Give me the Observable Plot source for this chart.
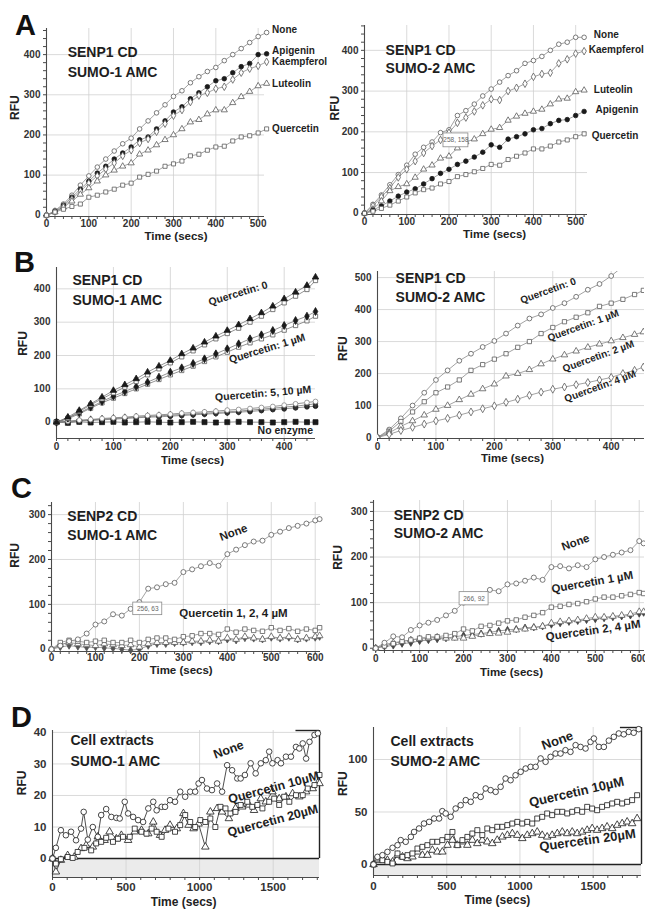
<!DOCTYPE html>
<html><head><meta charset="utf-8">
<script src="https://cdn.jsdelivr.net/npm/d3@7"></script>
<script src="https://cdn.jsdelivr.net/npm/@observablehq/plot@0.6"></script>
<style>
body{margin:0;background:#fff;}
#fig{position:relative;width:645px;height:910px;overflow:hidden;font-family:"Liberation Sans",Arial,sans-serif;}
#fig svg{position:absolute;}
</style></head><body><div id="fig"></div>
<script>
// ---------- Panel A (SENP1 CD) ----------
const a1Time = [0,20,40,60,80,100,120,140,160,180,200,220,240,260,280,300,320,340,360,380,400,420,440,460,480,500,520];
const a1None = [0,12,28,50,75,98,120,140,160,178,192,215,235,255,275,296,310,330,345,358,368,385,400,415,430,445,455];
const a1Apigenin = [0,10,25,45,65,85,105,122,140,155,170,188,195,215,235,257,270,290,305,320,335,340,355,370,378,400,402];
const a1Kaempferol = [0,9,22,40,60,80,98,115,130,148,162,180,190,208,228,248,262,282,298,305,315,320,338,355,365,372,382];
const a1Luteolin = [0,8,20,35,52,68,85,100,112,122,130,152,162,175,188,200,215,232,238,252,262,262,280,295,308,322,328];
const a1Quercetin = [0,8,15,22,28,45,50,58,65,75,80,95,102,110,122,128,135,148,152,162,170,172,185,195,198,205,215];

const a2Time = a1Time;
const a2None = [0,22,45,70,95,118,145,162,175,198,205,240,252,268,288,305,322,338,350,368,375,385,400,415,420,432,432];
const a2Kaempferol = [0,18,40,62,88,108,128,148,165,180,198,222,235,250,265,280,278,300,308,318,335,342,345,368,378,392,398];
const a2Luteolin = [0,10,30,55,65,72,88,108,118,135,140,160,175,182,195,206,210,228,238,245,250,255,268,280,282,298,302];
const a2Apigenin = [0,8,18,30,42,52,60,72,85,98,108,120,128,138,150,168,162,182,188,195,205,208,220,228,230,240,250];
const a2Quercetin = [0,5,12,20,30,40,50,58,62,72,78,90,95,102,110,120,118,132,140,148,158,158,165,175,180,188,195];

// ---------- Panel B (SENP1 CD, quercetin doses) ----------
const b1Time = [0,20,40,60,80,100,120,140,160,180,200,220,240,260,280,300,320,340,360,380,400,420,440,455];
const b1Q0a = [0,15,35,55,75,95,112,130,150,168,185,205,222,240,258,275,292,310,328,348,370,390,410,435];
const b1Q0b = [0,12,32,52,70,88,105,122,142,160,178,196,214,232,250,266,282,300,318,338,358,378,398,425];
const b1Q1a = [0,12,28,45,62,78,92,106,120,135,150,163,176,190,205,220,235,250,262,275,290,305,318,332];
const b1Q1b = [0,10,25,42,58,72,86,100,114,128,142,155,168,182,196,210,225,238,250,262,276,290,304,318];
const b1Q5 = [0,3,6,8,11,13,15,18,20,22,24,27,29,31,33,36,38,41,44,47,51,55,59,62];
const b1Q10 = [0,1,3,5,7,9,11,13,15,16,18,20,22,24,26,28,30,32,35,38,40,43,46,48];
const b1Q10b = [0,2,4,7,9,11,13,15,17,19,21,23,25,27,29,31,33,36,39,42,45,48,52,55];
const b1NoEnz = [0,-2,1,-1,0,1,-1,0,1,0,-1,0,1,0,-1,0,1,0,0,-1,0,1,0,0];

const b2Time = b1Time;
const b2Q0 = [0,25,60,100,140,180,210,240,262,283,302,325,350,372,385,405,420,440,462,480,505,535];
const b2Q1 = [0,20,50,80,112,140,158,180,210,228,245,262,282,300,325,344,362,376,390,410,420,432,447,460];
const b2Q2 = [0,15,35,52,70,88,100,118,135,152,167,192,200,212,230,245,258,270,282,292,302,312,322,330];
const b2Q4 = [0,10,22,32,42,52,60,70,80,90,99,110,120,132,142,151,158,165,172,180,188,200,210,220];

// ---------- Panel C (SENP2 CD) ----------
const c1Time = [0,20,40,60,80,100,120,140,160,180,200,220,240,260,280,300,320,340,360,380,400,420,440,460,480,500,520,540,560,580,600,610];
const c1None = [0,8,18,22,35,55,62,78,75,90,105,135,138,145,148,172,178,185,192,186,212,222,232,240,242,255,262,270,275,280,287,290];
const c1Q1 = [0,15,20,18,15,18,20,15,15,20,15,22,25,25,22,28,30,35,35,33,45,38,45,42,40,48,42,46,40,45,42,48];
const c1Q2 = [0,10,15,12,10,8,12,10,8,10,5,12,15,15,15,15,18,18,20,18,25,22,28,25,22,28,25,28,22,25,28,30];
const c1Q4 = [0,5,8,6,4,5,3,2,0,-2,0,8,12,12,14,15,16,16,18,18,22,20,25,24,22,26,24,26,22,24,26,28];

const c2Time = c1Time;
const c2None = [0,12,26,24,40,50,56,62,72,82,100,112,118,128,125,140,142,148,155,150,178,180,175,182,178,195,200,205,210,215,235,230];
const c2Q1 = [0,5,10,15,18,22,25,25,28,32,42,38,48,50,55,60,62,68,72,78,90,92,96,98,102,108,112,112,115,118,122,120];
const c2Q2 = [0,8,12,15,18,20,22,24,22,22,22,26,30,32,33,35,40,42,45,48,55,58,60,62,65,68,68,70,72,75,80,80];
const c2Q4 = [0,4,6,10,12,16,18,20,22,25,28,30,32,35,38,40,42,45,46,48,52,55,58,60,62,64,66,68,70,72,76,78];

// ---------- Panel D (cell extracts) ----------
const d1NoneTime = [0,23,57,91,126,160,194,212,240,274,308,331,365,400,434,457,491,514,548,582,616,651,685,708,742,765,799,833,868,902,936,970,993,1016,1050,1084,1119,1153,1187,1221,1256,1279,1308,1347,1381,1416,1450,1473,1495,1530,1553,1587,1621,1655,1678,1701,1724,1747,1781,1804];
const d1None = [0,3.4,9,7.4,8.5,5.8,9.5,14.8,6,10,6.9,13.8,15.7,13.2,12.9,12.7,18,14.3,13.2,12.2,11.6,15.9,18,15.3,16.4,16.4,18.5,18,21.2,19.6,21.2,21.2,23.8,24.9,22.2,21.7,23.8,21.2,29.6,28,25.4,25.4,26.5,30.2,27,30.2,31.2,33.9,30.2,31.2,30.2,32.3,32.3,35.4,34.9,36.5,31.7,37,39.2,39.7];
const d1Q10Time = [0,23,57,103,137,171,217,263,297,331,365,411,445,479,525,559,605,639,674,708,742,788,833,868,902,936,970,1005,1039,1073,1107,1142,1176,1210,1244,1279,1324,1358,1393,1427,1473,1507,1541,1575,1610,1655,1701,1735,1781,1815];
const d1Q10 = [0,-1.6,-0.2,0.5,0.2,2.1,3.4,2.6,4.8,5.3,6.6,5.3,6.3,6.9,6.9,9.5,8.5,7.9,9.5,8.5,6.9,9.5,8.5,10.6,13.8,11.6,10,12.2,11.6,12.7,10,16.4,15.9,14.3,14.8,17,18,16.4,17,15.9,18,19,17,19.6,18,20.1,20.1,22.2,23.3,26.5];
const d1Q20Time = [0,23,57,103,148,194,228,274,308,354,388,434,468,514,559,605,651,685,731,765,799,845,890,925,959,993,1039,1073,1119,1153,1199,1244,1290,1336,1370,1416,1450,1495,1541,1587,1632,1678,1724,1769,1815];
const d1Q20 = [0,-4.2,-0.5,1,0.5,3.2,4.2,3.7,6.9,5.8,8.5,6.3,7.4,5.8,8.5,9,7.9,11.6,7.4,9,10.6,9.5,14.3,10.6,9.5,11,3.7,14.8,15.9,14.8,12.7,15.9,16.4,17,15.3,19,18,21.2,19,19.6,20.6,19.6,21.2,22.2,23.8];

const d2NoneTime = [0,27,61,95,130,164,186,220,255,277,311,345,380,414,448,470,493,527,561,595,630,664,698,732,766,800,834,868,902,936,970,1005,1039,1073,1107,1141,1175,1209,1243,1277,1311,1345,1380,1414,1448,1482,1505,1539,1573,1607,1641,1675,1709,1743,1777,1811];
const d2None = [0,7.3,8.9,12,15.9,18.4,23.2,21.6,26.3,31,34.3,39,40.6,43.8,43.8,50.8,48.6,45.4,53.3,56.5,61.3,59.7,66,64.4,72.4,70.8,69.2,74,81.9,80.3,85,88.3,91.4,93,93,101,97.8,102.5,105.7,105.7,108.9,107.3,113.7,112,110.5,116.8,120,112,112,118,121.6,124.8,124,126.3,125.5,128.9];
const d2QTime = [0,27,61,95,130,164,198,232,266,300,334,368,402,436,470,505,539,573,607,641,675,709,743,777,811,845,880,914,948,982,1016,1050,1084,1118,1152,1186,1220,1255,1289,1323,1357,1391,1425,1459,1493,1527,1561,1595,1630,1664,1698,1732,1766,1800];
const d2Q10 = [0,5.7,4.1,2.5,1,10.5,7.3,8.9,10.5,15.2,16.8,18.4,21.6,21.6,23.2,26.3,31,18.4,23.2,26.3,29.5,32.7,28,34.3,32.7,35.9,35.9,37.5,39,40.6,39,40.6,39,43.8,45.4,48.6,47,50.2,50.2,48.6,50.2,51.7,50.2,54.9,53.3,51.7,54.9,56.5,58.1,59.7,58.1,59.7,61.3,66];
const d2Q20 = [0,4.1,5.7,4.1,2.5,8.9,7.3,5.7,7.3,12,8.9,8.9,13.7,12,12,18.4,23.2,18.4,21.6,18.4,23.2,20,23.2,21.6,20,23.2,26.3,27.9,29.5,27.9,24.8,27.9,29.5,31,27.9,26.3,27.9,29.5,31,29.5,31,29.5,31,32.7,34.3,32.7,34.3,35.9,34.3,37.5,39,40.6,39,43.8];

// ---------- tick labels ----------
const xTicksA = [0,100,200,300,400,500];
const yTicksA = [0,100,200,300,400];
const xTicksB = [0,100,200,300,400];
const yTicksB1 = [0,100,200,300,400];
const yTicksB2 = [0,100,200,300,400,500];
const xTicksC = [0,100,200,300,400,500,600];
const yTicksC = [0,100,200,300];
const xTicksD = [0,500,1000,1500];
const yTicksD1 = [0,10,20,30,40];
const yTicksD2 = [0,50,100];

const FONT = '"Liberation Sans", Arial, Helvetica, sans-serif';
const fig = document.getElementById("fig");

const OPEN = "white";
function S(t, v, symbol, fill, stroke, r) { return {t, v, symbol, fill, stroke, r}; }

function drawPanel(p) {
  const [fl, fr, ft, fb] = p.frame;
  const ML = 60, MR = 80, MT = 15, MB = 45;
  const width = Math.round(ML + (fr - fl) + MR), height = Math.round(MT + (fb - ft) + MB);
  const axisCol = "#4a4a4a";
  const fmt = d => String(d);
  const marks = [];
  if (p.band) marks.push(Plot.rect([{a: p.xdom[0], b: p.xdom[1], c: p.ydom[0], d: 0}], {x1: "a", x2: "b", y1: "c", y2: "d", fill: "#ebebeb"}));
  marks.push(Plot.gridX(p.xTicks.filter(d => d > 0), {stroke: "#d0d0d0", strokeOpacity: 1, strokeWidth: 0.8}));
  marks.push(Plot.gridY(p.yTicks.filter(d => d > 0), {stroke: "#d0d0d0", strokeOpacity: 1, strokeWidth: 0.8}));
  marks.push(Plot.ruleX([p.xdom[0]], {stroke: axisCol, strokeWidth: 1.1}));
  marks.push(Plot.ruleY([p.ydom[0]], {stroke: axisCol, strokeWidth: 1.1}));
  if (p.band) {
    marks.push(Plot.ruleY([0], {stroke: "#222", strokeWidth: 1.6}));
    marks.push(Plot.ruleY([p.ydom[1]], {x1: () => p.bracketX, x2: () => p.xdom[1], stroke: "#222", strokeWidth: 1.4}));
    marks.push(Plot.ruleX([p.xdom[1]], {y1: () => 0, y2: () => p.ydom[1], stroke: "#222", strokeWidth: 1.4}));
  }
  if (p.xMinor) marks.push(Plot.axisX(p.xMinor, {tickSize: 3, tickFormat: () => "", label: null, stroke: axisCol}));
  if (p.yMinor) marks.push(Plot.axisY(p.yMinor, {tickSize: 3, tickFormat: () => "", label: null, stroke: axisCol}));
  marks.push(Plot.axisX(p.xTicks, {tickSize: 0, tickPadding: p.xPad, tickFormat: fmt, label: null, fontWeight: "bold", fontSize: p.tickFs, color: "#333"}));
  marks.push(Plot.axisY(p.yTicks, {tickSize: 0, tickPadding: p.yPad, tickFormat: fmt, label: null, fontWeight: "bold", fontSize: p.tickFs, color: "#333"}));
  const rowsOf = s => s.t.map((t, i) => ({t, v: s.v[i]})).filter(d => d.v != null);
  for (const s of p.series) marks.push(Plot.line(rowsOf(s), {x: "t", y: "v", stroke: p.lineColor, strokeWidth: 0.8, clip: p.clip}));
  for (const s of p.series) marks.push(Plot.dot(rowsOf(s), {x: "t", y: "v", symbol: s.symbol, r: s.r ?? p.r, fill: s.fill, stroke: s.stroke, strokeWidth: 0.8, clip: p.clip}));
  if (p.tip) {
    marks.push(Plot.rect([p.tip], {x1: d => d.box[0], x2: d => d.box[1], y1: d => d.box[2], y2: d => d.box[3], fill: "white", stroke: "#8a8a8a", strokeWidth: 0.8}));
    marks.push(Plot.text([p.tip], {x: d => d.at[0], y: d => d.at[1], text: d => d.text, fontSize: 6.5, fill: "#666"}));
  }
  marks.push(Plot.text(p.titles, {x: d => d[1], y: d => d[2], text: d => d[0], textAnchor: "start", fontSize: 14, fontWeight: "bold", fill: "#1e1e1e"}));
  marks.push(Plot.text(p.labels, {x: d => d[1], y: d => d[2], text: d => d[0], rotate: d => d[3] || 0, textAnchor: p.labelAnchor, fontSize: p.labelFs, fontWeight: "bold", fill: "#1e1e1e"}));
  marks.push(Plot.text(["RFU"], {x: () => p.xdom[0], y: () => p.rfuY, dx: p.rfuDx, rotate: -90, text: d => d, fontSize: 12, fontWeight: "bold", fill: "#222"}));
  marks.push(Plot.text(["Time (secs)"], {x: () => p.timeX, frameAnchor: "bottom", dy: p.timeDy, text: d => d, fontSize: p.timeFs || 11.5, fontWeight: "bold", fill: "#222"}));
  const svg = Plot.plot({
    width, height, marginLeft: ML, marginRight: MR, marginTop: MT, marginBottom: MB,
    x: {domain: p.xdom, label: null},
    y: {domain: p.ydom, label: null},
    style: {fontFamily: FONT, overflow: "visible", background: "transparent"},
    marks
  });
  svg.style.left = (fl - ML) + "px";
  svg.style.top = (ft - MT) + "px";
  fig.appendChild(svg);
}

const G = "#5a5a5a", K = "#1a1a1a";

drawPanel({
  frame: [46, 264.4, 27.8, 216.2], xdom: [0, 515], ydom: [-3, 465],
  xTicks: xTicksA, yTicks: yTicksA, xMinor: d3.range(0, 515, 20), yMinor: d3.range(0, 461, 20),
  xPad: 3, yPad: 6, tickFs: 10, lineColor: "#8a8a8a", r: 2.3,
  series: [S(a1Time, a1None, "circle", OPEN, G), S(a1Time, a1Apigenin, "circle", K, K), S(a1Time, a1Kaempferol, "diamond", OPEN, G),
           S(a1Time, a1Luteolin, "triangle", OPEN, G), S(a1Time, a1Quercetin, "square", OPEN, G)],
  titles: [["SENP1 CD", 50, 405], ["SUMO-1 AMC", 50, 355]],
  labels: [["None", 533, 462], ["Apigenin", 533, 410], ["Kaempferol", 533, 383], ["Luteolin", 533, 328], ["Quercetin", 533, 216]],
  labelAnchor: "start", labelFs: 10,
  rfuY: 268, rfuDx: -31, timeX: 306, timeDy: 23
});
drawPanel({
  frame: [364, 586.8, 25.1, 214.2], xdom: [0, 528], ydom: [-3, 461],
  xTicks: xTicksA, yTicks: yTicksA, xMinor: d3.range(0, 528, 20), yMinor: d3.range(0, 461, 20),
  xPad: 3, yPad: 6, tickFs: 10, lineColor: "#8a8a8a", r: 2.3,
  series: [S(a2Time, a2None, "circle", OPEN, G), S(a2Time, a2Kaempferol, "diamond", OPEN, G), S(a2Time, a2Luteolin, "triangle", OPEN, G),
           S(a2Time, a2Apigenin, "circle", K, K), S(a2Time, a2Quercetin, "square", OPEN, G)],
  titles: [["SENP1 CD", 50, 400], ["SUMO-2 AMC", 50, 356]],
  labels: [["None", 543, 437], ["Kaempferol", 531, 402], ["Luteolin", 543, 302], ["Apigenin", 547, 253], ["Quercetin", 538, 191]],
  labelAnchor: "start", labelFs: 10,
  tip: {box: [187, 246, 162, 196], at: [216.5, 179], text: "258, 158"},
  rfuY: 258, rfuDx: -29, timeX: 308, timeDy: 23
});
drawPanel({
  frame: [56, 315.4, 267, 438], xdom: [0, 455], ydom: [-49, 464],
  xTicks: xTicksB, yTicks: yTicksB1, xMinor: d3.range(0, 455, 20), yMinor: null,
  xPad: 4, yPad: 6, tickFs: 10, lineColor: "#777", r: 2.4,
  series: [S(b1Time, b1NoEnz, "square", K, K, 2.8), S(b1Time, b1Q10, "circle", K, K), S(b1Time, b1Q10b, "diamond", "#333", "#333"),
           S(b1Time, b1Q5, "circle", OPEN, "#888"),
           S(b1Time, b1Q1b, "square", OPEN, G), S(b1Time, b1Q1a, "diamond", K, K),
           S(b1Time, b1Q0b, "square", OPEN, G), S(b1Time, b1Q0a, "triangle", K, K)],
  titles: [["SENP1 CD", 28, 425], ["SUMO-1 AMC", 28, 365]],
  labels: [["Quercetin: 0", 319, 386, -17], ["Quercetin: 1 µM", 370, 221, -17], ["Quercetin: 5, 10 µM", 363, 86, -5], ["No enzyme", 402, -26, 0]],
  labelAnchor: "middle", labelFs: 10.5,
  rfuY: 236, rfuDx: -33, timeX: 239, timeDy: 25
});
drawPanel({
  frame: [377, 644.3, 270.9, 438], xdom: [0, 457], ydom: [-3, 519],
  xTicks: xTicksB, yTicks: yTicksB2, xMinor: d3.range(0, 457, 20), yMinor: null,
  xPad: 4, yPad: 6, tickFs: 10, lineColor: "#8a8a8a", r: 2.4, clip: true,
  series: [S(b2Time, b2Q0, "circle", OPEN, G), S(b2Time, b2Q1, "square", OPEN, G), S(b2Time, b2Q2, "triangle", OPEN, G), S(b2Time, b2Q4, "diamond", OPEN, G)],
  titles: [["SENP1 CD", 31, 497], ["SUMO-2 AMC", 31, 437]],
  labels: [["Quercetin: 0", 292, 459, -20], ["Quercetin: 1 µM", 352, 350, -20], ["Quercetin: 2 µM", 378, 254, -20], ["Quercetin: 4 µM", 381, 160, -20]],
  labelAnchor: "middle", labelFs: 10,
  rfuY: 278, rfuDx: -34, timeX: 231, timeDy: 23
});
drawPanel({
  frame: [51, 320.3, 501.9, 651.25], xdom: [0, 612], ydom: [-5, 327],
  xTicks: xTicksC, yTicks: yTicksC, xMinor: d3.range(0, 612, 20), yMinor: d3.range(0, 327, 20),
  xPad: 2, yPad: 6, tickFs: 10, lineColor: "#8a8a8a", r: 2.5,
  series: [S(c1Time, c1Q4, "diamond", "#555", "#555", 2.2), S(c1Time, c1Q2, "triangle", OPEN, G), S(c1Time, c1Q1, "square", OPEN, G), S(c1Time, c1None, "circle", OPEN, G)],
  titles: [["SENP2 CD", 36, 296], ["SUMO-1 AMC", 36, 253]],
  labels: [["None", 414, 260, -20], ["Quercetin 1, 2, 4 µM", 414, 80, 0]],
  labelAnchor: "middle", labelFs: 11.5,
  tip: {box: [186, 252, 76, 104], at: [219, 90], text: "256, 63"},
  rfuY: 209, rfuDx: -36, timeX: 295, timeDy: 22
});
drawPanel({
  frame: [372.8, 644.3, 500, 650.3], xdom: [-5, 612], ydom: [-5, 324],
  xTicks: xTicksC, yTicks: yTicksC, xMinor: d3.range(0, 612, 20), yMinor: d3.range(0, 324, 20),
  xPad: 4, yPad: 6, tickFs: 10, lineColor: "#8a8a8a", r: 2.5,
  series: [S(c2Time, c2Q4, "diamond", "#444", "#444", 2.2), S(c2Time, c2Q2, "triangle", OPEN, G), S(c2Time, c2Q1, "square", OPEN, G), S(c2Time, c2None, "circle", OPEN, G)],
  titles: [["SENP2 CD", 41, 291], ["SUMO-2 AMC", 41, 252]],
  labels: [["None", 455, 232, -20], ["Quercetin 1 µM", 493, 145, -10], ["Quercetin 2, 4 µM", 495, 39, -8]],
  labelAnchor: "middle", labelFs: 11.5,
  tip: {box: [191, 257, 94, 123], at: [224, 108], text: "266, 92"},
  rfuY: 199, rfuDx: -35, timeX: 309, timeDy: 25
});
drawPanel({
  frame: [52, 318.8, 730.1, 876.9], xdom: [0, 1815], ydom: [-6, 40.6], band: true, bracketX: 1655,
  xTicks: xTicksD, yTicks: yTicksD1, xMinor: d3.range(0, 1815, 100), yMinor: null,
  xPad: 5, yPad: 6, tickFs: 11.5, lineColor: "#222", r: 2.8,
  series: [S(d1Q20Time, d1Q20, "triangle", OPEN, K), S(d1Q10Time, d1Q10, "square", OPEN, K), S(d1NoneTime, d1None, "circle", OPEN, K)],
  titles: [["Cell extracts", 122, 37.5], ["SUMO-1 AMC", 122, 30.8]],
  labels: [["None", 1197, 34.5, -20], ["Quercetin 10µM", 1503, 22.5, -15], ["Quercetin 20µM", 1497, 12, -15]],
  labelAnchor: "middle", labelFs: 12.5,
  rfuY: 24, rfuDx: -30, timeX: 891, timeDy: 28, timeFs: 12
});
drawPanel({
  frame: [373, 641.1, 727, 875], xdom: [0, 1830], ydom: [-10.5, 130.5], band: true, bracketX: 1686,
  xTicks: xTicksD, yTicks: yTicksD2, xMinor: d3.range(0, 1830, 100), yMinor: null,
  xPad: 6, yPad: 6, tickFs: 11.5, lineColor: "#222", r: 2.8,
  series: [S(d2QTime, d2Q20, "triangle", OPEN, K), S(d2QTime, d2Q10, "square", OPEN, K), S(d2NoneTime, d2None, "circle", OPEN, K)],
  titles: [["Cell extracts", 116, 117], ["SUMO-2 AMC", 116, 98]],
  labels: [["None", 1256, 118, -20], ["Quercetin 10µM", 1386, 69, -13], ["Quercetin 20µM", 1461, 23, -8]],
  labelAnchor: "middle", labelFs: 13,
  rfuY: 77, rfuDx: -30, timeX: 846, timeDy: 28, timeFs: 12
});

// panel letters
const letters = [["A", 15, 35], ["B", 14, 272], ["C", 11, 498], ["D", 11, 727]];
const ov = d3.select(fig).append("svg").attr("width", 645).attr("height", 910).style("left", "0px").style("top", "0px");
ov.selectAll("text").data(letters).join("text")
  .attr("x", d => d[1]).attr("y", d => d[2]).text(d => d[0])
  .attr("font-family", FONT).attr("font-weight", "bold").attr("font-size", 29).attr("fill", "#111");
</script></body></html>
